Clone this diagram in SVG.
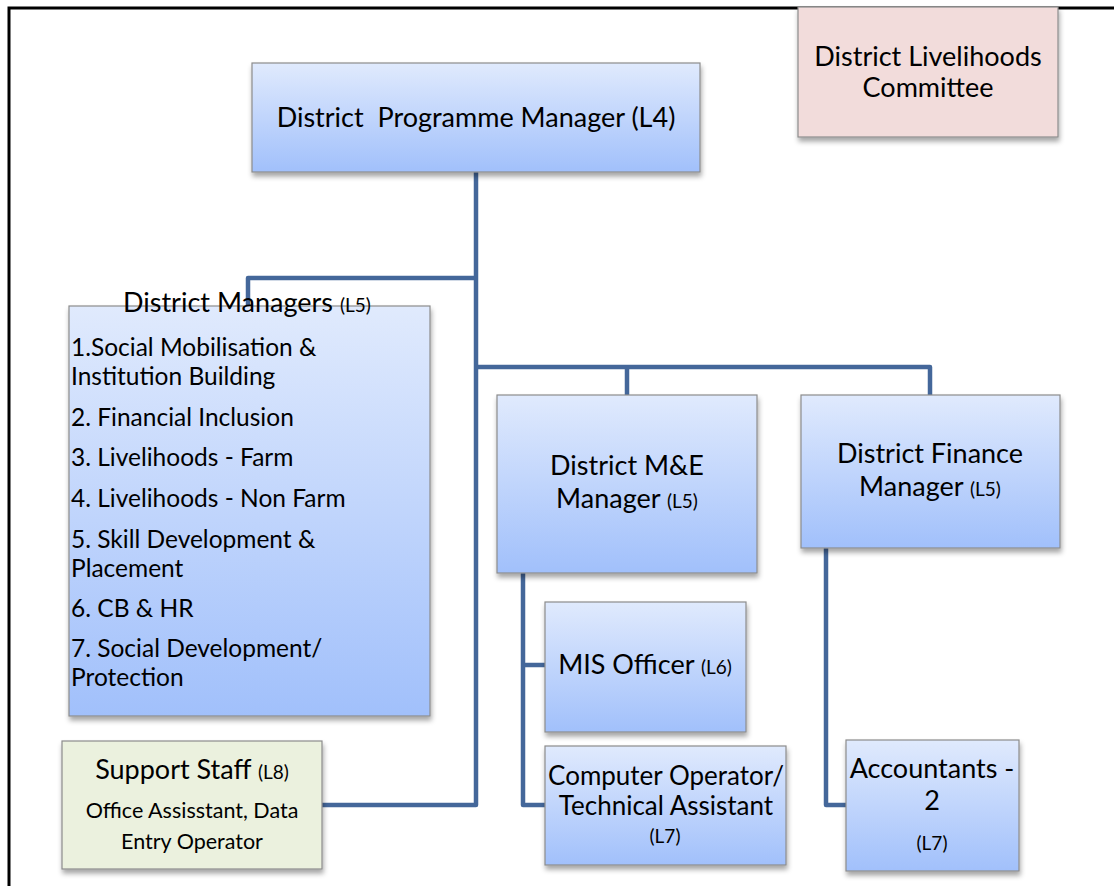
<svg xmlns="http://www.w3.org/2000/svg" width="1114" height="886" viewBox="0 0 1114 886">
<style>
.box{stroke:#8c8c8c;stroke-width:1.2;filter:url(#sh)}
.blue{fill:url(#gb)}
.t{font-family:Lato,"Liberation Sans",sans-serif;fill:#000}
.big{font-size:27px}
.mid{font-size:24.5px}
.sm{font-size:19px}
.sub{font-size:21.5px}
.c{text-anchor:middle}
.con{fill:none;stroke:#44679a;stroke-width:4.5;stroke-linejoin:round}
</style>
<defs>
<linearGradient id="gb" x1="0" y1="0" x2="0" y2="1">
<stop offset="0" stop-color="#e0eafd"/>
<stop offset="1" stop-color="#a1c0fb"/>
</linearGradient>
<filter id="sh" x="-10%" y="-10%" width="120%" height="130%">
<feDropShadow dx="1" dy="4" stdDeviation="2.5" flood-color="#000" flood-opacity="0.35"/>
</filter>
</defs>
<rect width="1114" height="886" fill="#fff"/>
<path d="M9,886 V8 H1114" fill="none" stroke="#000" stroke-width="3"/>
<g id="connectors">
<path class="con" d="M476,172 V805 H322"/>
<path class="con" d="M476,278 H248 V306"/>
<path class="con" d="M476,367 H930 V395 M627,367 V395"/>
<path class="con" d="M523,573 V805 H545 M523,665 H545"/>
<path class="con" d="M826,548 V805 H846"/>
</g>
<g id="dpm">
<rect class="box blue" x="252" y="63" width="448" height="109"/>
<text class="t big c" x="476" y="127" xml:space="preserve">District  Programme Manager (L4)</text>
</g>
<g id="committee">
<rect class="box" x="798" y="7" width="260" height="130" fill="#f2dcdb"/>
<text class="t big c" x="928" y="66">District Livelihoods</text>
<text class="t big c" x="928" y="97">Committee</text>
</g>
<g id="district-managers">
<rect class="box blue" x="69" y="306" width="361" height="410"/>
<text class="t big" x="123" y="312">District Managers <tspan class="sm">(L5)</tspan></text>
<text class="t mid" x="71" y="356">1.Social Mobilisation &amp;</text>
<text class="t mid" x="71" y="385">Institution Building</text>
<text class="t mid" x="71" y="426">2. Financial Inclusion</text>
<text class="t mid" x="71" y="466">3. Livelihoods - Farm</text>
<text class="t mid" x="71" y="507">4. Livelihoods - Non Farm</text>
<text class="t mid" x="71" y="548">5. Skill Development &amp;</text>
<text class="t mid" x="71" y="577">Placement</text>
<text class="t mid" x="71" y="617">6. CB &amp; HR</text>
<text class="t mid" x="71" y="657">7. Social Development/</text>
<text class="t mid" x="71" y="686">Protection</text>
</g>
<g id="support-staff">
<rect class="box" x="62" y="741" width="260" height="128" fill="#ebf1de"/>
<text class="t big c" x="192" y="779">Support Staff <tspan class="sm">(L8)</tspan></text>
<text class="t sub c" x="192" y="818">Office Assisstant, Data</text>
<text class="t sub c" x="192" y="849">Entry Operator</text>
</g>
<g id="me-manager">
<rect class="box blue" x="497" y="395" width="260" height="178"/>
<text class="t big c" x="627" y="475">District M&amp;E</text>
<text class="t big c" x="627" y="508">Manager <tspan class="sm">(L5)</tspan></text>
</g>
<g id="finance-manager">
<rect class="box blue" x="801" y="395" width="259" height="153"/>
<text class="t big c" x="930" y="463">District Finance</text>
<text class="t big c" x="930" y="496">Manager <tspan class="sm">(L5)</tspan></text>
</g>
<g id="mis-officer">
<rect class="box blue" x="545" y="602" width="201" height="130"/>
<text class="t big c" x="645" y="674">MIS Officer <tspan class="sm">(L6)</tspan></text>
</g>
<g id="computer-operator">
<rect class="box blue" x="545" y="746" width="241" height="119"/>
<text class="t c" style="font-size:26px" x="666" y="785">Computer Operator/</text>
<text class="t c" style="font-size:26px" x="666" y="815">Technical Assistant</text>
<text class="t sm c" x="665" y="843">(L7)</text>
</g>
<g id="accountants">
<rect class="box blue" x="846" y="740" width="173" height="131"/>
<text class="t big c" x="932" y="778">Accountants -</text>
<text class="t big c" x="932" y="810">2</text>
<text class="t sm c" x="932" y="850">(L7)</text>
</g>
</svg>
